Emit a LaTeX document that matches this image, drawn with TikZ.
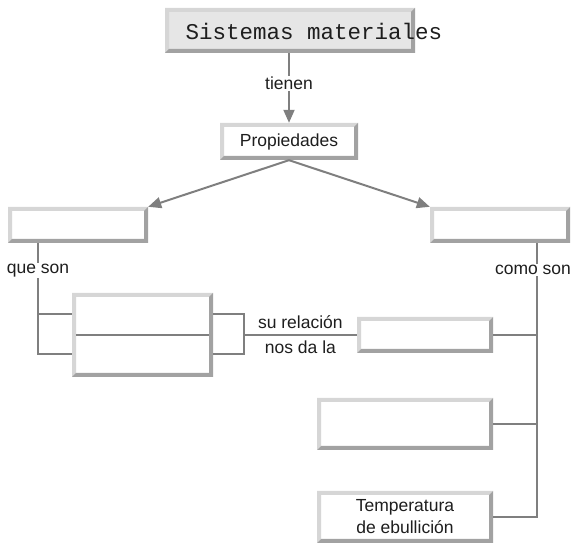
\documentclass[tikz,border=0pt]{standalone}
\usepackage{fontspec}
\setmainfont{Liberation Sans}
\newfontfamily\monofont{Liberation Mono}
\usetikzlibrary{calc,arrows.meta}
\definecolor{bevL}{HTML}{D6D6D6}
\definecolor{bevD}{HTML}{A2A2A2}
\definecolor{lnC}{HTML}{7F7F7F}
\definecolor{txtC}{HTML}{1E1E1E}
\definecolor{sisFill}{HTML}{E6E6E6}
\begin{document}
\begin{tikzpicture}[x=1pt,y=-1pt,
  bev/.style={rectangle, inner sep=0pt, fill=white, align=center,
    font=\fontsize{17.5}{22}\selectfont, text=txtC,
    path picture={
      \coordinate (sw) at (path picture bounding box.south west);
      \coordinate (ne) at (path picture bounding box.north east);
      \coordinate (nw) at (path picture bounding box.north west);
      \coordinate (se) at (path picture bounding box.south east);
      \fill[bevL] (sw) -- (nw) -- (ne) -- ($(ne)+(-4pt,-4pt)$) -- ($(nw)+(4pt,-4pt)$) -- ($(sw)+(4pt,4pt)$) -- cycle;
      \fill[bevD] (sw) -- (se) -- (ne) -- ($(ne)+(-4pt,-4pt)$) -- ($(se)+(-4pt,4pt)$) -- ($(sw)+(4pt,4pt)$) -- cycle;
    }},
  ln/.style={draw=lnC, line width=2pt},
  arr/.style={ln, -{Triangle[length=13pt,width=11pt]}},
  lbl/.style={fill=white, inner sep=1pt, text=txtC, font=\fontsize{17.5}{22}\selectfont},
  lblp/.style={inner sep=0pt, text=txtC, font=\fontsize{17.5}{22}\selectfont}
]
\useasboundingbox (0,0) rectangle (571,545);

% boxes
\node[bev, fill=sisFill, minimum width=250pt, minimum height=45pt] (sis) at (290,30.5) {};
\node[text=txtC, font=\monofont\fontsize{22.5}{27}\selectfont, inner sep=0pt] (sistxt) at (314,31) {Sistemas materiales};
\node[bev, minimum width=138pt, minimum height=37pt] (prop) at (289,141.5) {Propiedades};
\node[bev, minimum width=140pt, minimum height=36pt] (lb) at (78,225) {};
\node[bev, minimum width=140pt, minimum height=36pt] (rb) at (500,225) {};
\node[bev, minimum width=141pt, minimum height=84pt] (mid) at (142.5,335) {};
\node[bev, minimum width=136pt, minimum height=36pt] (r2) at (425,335) {};
\node[bev, minimum width=176pt, minimum height=52pt] (r3) at (405,424) {};
\node[bev, minimum width=176pt, minimum height=52pt] (r4) at (405,517) {Temperatura\\de ebullición};

% divider in mid box
\draw[ln] ($(mid.west)+(4pt,0)$) -- ($(mid.east)+(-4pt,0)$);

% top connector
\draw[arr] (sis.south -| prop.north) -- node[lbl, pos=0.43] {tienen} (prop.north);

% diagonal arrows
\draw[arr] (prop.south) -- (lb.north east);
\draw[arr] (prop.south) -- (rb.north west);

% left branch
\coordinate (qa) at (38,314);
\coordinate (qb) at (38,354);
\draw[ln] (lb.south -| qb) -- node[lbl, pos=0.243] {que son} (qb) -- (qb -| mid.west);
\draw[ln] (qa) -- (qa -| mid.west);

% right bracket
\coordinate (ba) at (244,314);
\coordinate (bb) at (244,354);
\coordinate (bc) at (244,335);
\draw[ln] (qa -| mid.east) -- (ba) -- (bb) -- (qb -| mid.east);
\draw[ln] (bc) -- node[lblp, yshift=12.5pt] {su relación} node[lblp, yshift=-12pt] {nos da la} (r2.west);

% right vertical
\coordinate (rv) at (537,517);
\draw[ln] (rb.south -| rv) -- node[lbl, pos=0.0985, xshift=-4pt] {como son} (rv) -- (r4.east);
\draw[ln] (r2.east) -- (r2.east -| rv);
\draw[ln] (r3.east) -- (r3.east -| rv);
\end{tikzpicture}
\end{document}
